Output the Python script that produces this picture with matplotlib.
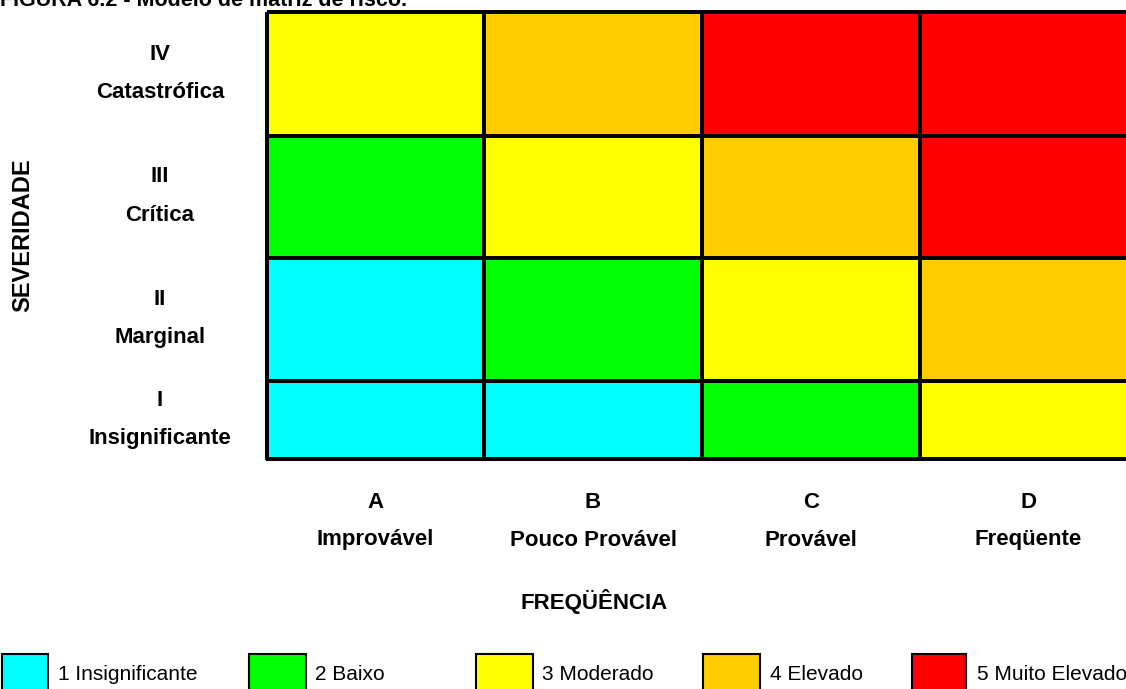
import matplotlib.pyplot as plt
import numpy as np
from matplotlib.colors import ListedColormap, BoundaryNorm
from matplotlib.patches import Rectangle

plt.rcParams['font.family'] = ['Liberation Sans', 'DejaVu Sans']

# data
title = "FIGURA 6.2 - Modelo de matriz de risco."
freq_codes = ["A", "B", "C", "D"]
freq_names = ["Improvável", "Pouco Provável", "Provável", "Freqüente"]
sev_codes = ["IV", "III", "II", "I"]
sev_names = ["Catastrófica", "Crítica", "Marginal", "Insignificante"]
# risk level per cell, rows top (IV) to bottom (I), columns A..D
risk = [[3, 4, 5, 5],
        [2, 3, 4, 5],
        [1, 2, 3, 4],
        [1, 1, 2, 3]]
level_labels = ["1 Insignificante", "2 Baixo", "3 Moderado", "4 Elevado", "5 Muito Elevado"]
level_colors = ["#00FFFF", "#00FF00", "#FFFF00", "#FFCC00", "#FF0000"]

# layout (pixels)
col_edges = [267, 484, 702, 920, 1137]
row_edges = [12, 136, 258, 381, 459]
legend_box_x = [2, 249, 476, 703, 912]
legend_box_w = [46, 57, 57, 57, 54]
legend_text_x = [58, 315, 542, 770, 977]

fig = plt.figure(figsize=(11.26, 6.89), dpi=100)
ax = fig.add_axes([0, 0, 1, 1])
ax.set_xlim(0, 1126)
ax.set_ylim(689, 0)
ax.axis('off')

cmap = ListedColormap(level_colors)
norm = BoundaryNorm(np.arange(0.5, 6.5, 1), cmap.N)
ax.pcolormesh(col_edges, row_edges, np.array(risk), cmap=cmap, norm=norm,
              edgecolors='black', linewidth=1.5)

# title, cropped at the top edge like the source scan
ax.text(0, 5.5, title, fontsize=15.5, fontweight='bold', ha='left', va='baseline')

# row labels
for i in range(len(sev_codes)):
    yc = (row_edges[i] + row_edges[i + 1]) / 2
    ax.text(160, yc - 20, sev_codes[i], fontsize=16, fontweight='bold', ha='center', va='center')
    ax.text(160, yc + 18.5, sev_names[i], fontsize=16, fontweight='bold', ha='center', va='center')

# column labels
for j in range(len(freq_codes)):
    xc = (col_edges[j] + col_edges[j + 1]) / 2
    ax.text(xc, 502, freq_codes[j], fontsize=16, fontweight='bold', ha='center', va='center')
    ax.text(xc, 540, freq_names[j], fontsize=16, fontweight='bold', ha='center', va='center')

ax.text(594, 602, "FREQÜÊNCIA", fontsize=16, fontweight='bold', ha='center', va='center')
ax.text(23, 235, "SEVERIDADE", fontsize=17, fontweight='bold', ha='center', va='center',
        rotation=90)

# legend
for k in range(len(level_labels)):
    ax.add_patch(Rectangle((legend_box_x[k], 654), legend_box_w[k], 45,
                           facecolor=level_colors[k], edgecolor='black', linewidth=1.5))
    ax.text(legend_text_x[k], 674, level_labels[k], fontsize=15, ha='left', va='center')

fig.savefig("out.png", dpi=100)
